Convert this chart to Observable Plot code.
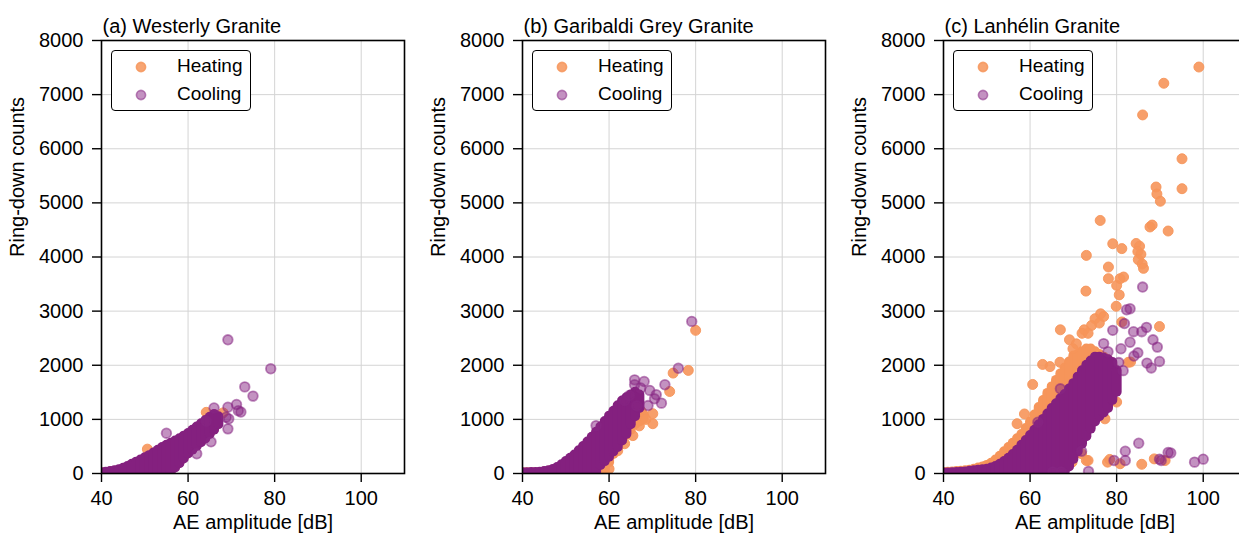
<!DOCTYPE html>
<html>
<head>
<meta charset="utf-8">
<script src="https://cdn.jsdelivr.net/npm/d3@7"></script>
<script src="https://cdn.jsdelivr.net/npm/@observablehq/plot@0.6"></script>
<style>
  html, body { margin: 0; padding: 0; background: #fff; }
  #root { position: relative; width: 1239px; height: 545px; overflow: hidden; background: #fff;
          font-family: "Liberation Sans", Arial, sans-serif; color: #000; }
  .panel { position: absolute; top: 0; width: 420px; height: 545px; }
  .panel svg { max-width: none !important; }
  .legend { position: absolute; top: 50px; width: 138px; height: 59px; border: 1.6px solid #000;
            border-radius: 4px; background: #fff; font-size: 19px; }
  .legend .row { position: absolute; left: 0; height: 22px; line-height: 22px; }
  .legend .lab { position: absolute; left: 65px; white-space: nowrap; }
  .legend svg { position: absolute; left: 22px; top: 5px; }
</style>
</head>
<body>
<div id="root"></div>
<script>
// ---------------- data ----------------
const titles = ["(a) Westerly Granite", "(b) Garibaldi Grey Granite", "(c) Lanhélin Granite"];
const seriesNames = ["Heating", "Cooling"];
const xTicks = [40, 60, 80, 100];
const yTicks = [0, 1000, 2000, 3000, 4000, 5000, 6000, 7000, 8000];

// Dense clouds: for each integer amplitude (dB) the range of ring-down counts covered by points
// Panel (a)
const heatAmpA = [40,41,42,43,44,45,46,47,48,49,50,51,52,53,54,55,56,57,58,59,60,61,62,63,64,65,66];
const heatMinA = [0,0,0,0,0,0,0,0,0,0,0,0,0,0,0,20,50,120,200,290,380,450,520,590,660,740,820];
const heatMaxA = [10,20,30,40,55,75,100,130,170,210,260,300,350,400,440,480,520,560,600,640,690,750,810,870,930,990,1040];
const coolAmpA = [40,41,42,43,44,45,46,47,48,49,50,51,52,53,54,55,56,57,58,59,60,61,62,63,64,65,66,67];
const coolMinA = [0,0,0,0,0,0,0,0,0,0,0,0,0,0,0,0,30,100,180,270,360,430,500,570,640,720,800,900];
const coolMaxA = [15,25,35,50,70,95,130,170,210,250,290,330,380,430,480,520,560,600,640,690,740,800,860,920,980,1040,1090,1050];
// sparse points of panel (a)
const heatOutAmpA = [50.6, 68.1, 64.2, 66.3];
const heatOutCntA = [450, 1120, 1130, 1080];
const coolOutAmpA = [69.2, 79.1, 73.1, 75.0, 71.2, 69.2, 72.2, 71.6, 66.0, 69.2, 68.8, 55.0, 62.0, 65.3, 69.4, 64.2];
const coolOutCntA = [2470, 1935, 1600, 1430, 1275, 1225, 1135, 1160, 1210, 825, 1040, 745, 365, 585, 1010, 965];

// Panel (b)
const heatAmpB = [40,41,42,43,44,45,46,47,48,49,50,51,52,53,54,55,56,57,58,59,60,61,62,63,64,65,66,67,68];
const heatMinB = [0,0,0,0,0,0,0,0,0,0,0,0,0,0,0,0,0,0,0,0,200,350,480,600,700,800,900,950,1000];
const heatMaxB = [15,15,15,15,15,30,40,60,90,130,180,230,290,360,430,500,580,660,740,800,850,930,1000,1050,1100,1150,1150,1100,1080];
const coolAmpB = [40,41,42,43,44,45,46,47,48,49,50,51,52,53,54,55,56,57,58,59,60,61,62,63,64,65,66,67];
const coolMinB = [0,0,0,0,0,0,0,0,0,0,0,0,0,0,0,0,0,0,150,220,300,400,480,600,720,900,1050,1200];
const coolMaxB = [15,15,20,20,25,35,50,75,110,160,220,280,340,420,500,580,670,760,860,960,1060,1150,1250,1340,1400,1450,1500,1450];
const heatOutAmpB = [80.0, 78.3, 74.8, 74.0, 70.1, 70.1, 67.4, 67.0, 63.6, 62.0, 60.0, 58.1, 68.5, 65.5];
const heatOutCntB = [2645, 1905, 1855, 1515, 1105, 920, 1150, 880, 550, 420, 85, 85, 1000, 700];
const coolOutAmpB = [79.1, 76.0, 72.9, 65.9, 68.1, 65.9, 69.4, 70.9, 70.5, 72.1, 69.0, 64.7, 63.6, 57.0, 66.4, 67.3];
const coolOutCntB = [2810, 1945, 1640, 1730, 1700, 1640, 1535, 1455, 1380, 1300, 1255, 1440, 1350, 885, 1250, 1580];

// Panel (c)
const heatAmpC = [40,41,42,43,44,45,46,47,48,49,50,51,52,53,54,55,56,57,58,59,60,61,62,63,64,65,66,67,68,69,70,71,72,73,74,75,76,77,78,79];
const heatMinC = [0,0,0,0,0,0,0,0,0,0,0,0,0,0,0,0,0,0,0,0,0,0,0,0,0,30,80,150,250,350,450,600,750,900,1000,1100,1200,1300,1400,1500];
const heatMaxC = [20,25,30,35,40,50,60,80,100,120,150,190,250,320,400,480,560,640,720,830,950,1080,1220,1350,1480,1600,1720,1840,1950,2060,2170,2200,2250,2300,2300,2250,2200,2150,2100,2000];
const coolAmpC = [40,41,42,43,44,45,46,47,48,49,50,51,52,53,54,55,56,57,58,59,60,61,62,63,64,65,66,67,68,69,70,71,72,73,74,75,76,77,78,79,80];
const coolMinC = [0,0,0,0,0,0,0,0,0,0,0,0,0,0,0,0,0,0,0,0,0,0,0,0,0,0,0,0,30,120,260,400,540,680,820,950,1050,1120,1200,1350,1500];
const coolMaxC = [10,10,15,20,25,30,40,50,60,70,80,100,130,170,220,280,350,430,520,610,700,800,900,1000,1100,1200,1290,1380,1460,1560,1660,1780,1900,2000,2080,2150,2150,2130,2100,2050,1900];
const heatOutAmpC = [99.0, 90.9, 86.0, 95.1, 95.1, 89.1, 89.3, 90.1, 91.9, 87.7, 88.2, 76.2, 79.1, 81.2, 73.0,
  84.5, 85.3, 84.9, 85.6, 85.0, 85.9, 86.2, 78.1, 78.1, 80.8, 81.6, 80.0, 72.9, 80.6, 79.9, 76.3, 75.0, 74.2,
  72.5, 67.0, 89.9, 69.1, 70.7, 69.9, 72.0, 73.4, 81.2, 62.9, 64.6, 66.9, 82.7, 60.6, 57.0, 58.7, 69.7, 73.0,
  77.9, 80.8, 85.8, 88.7, 91.2, 71.9, 78.4, 73.4, 80.0, 77.3, 78.8, 83.2, 76.0, 77.0];
const heatOutCntC = [7510, 7210, 6625, 5815, 5262, 5293, 5165, 5030, 4480, 4555, 4590, 4675, 4245, 4155, 4030,
  4250, 4200, 4100, 4050, 3950, 3870, 3790, 3815, 3600, 3600, 3630, 3475, 3370, 3300, 3090, 2950, 2860, 2735,
  2655, 2655, 2715, 2470, 2395, 2305, 2590, 2590, 2800, 2015, 1975, 2055, 2055, 1645, 920, 1100, 210, 240,
  210, 180, 170, 270, 240, 365, 260, 240, 1320, 1010, 1350, 2060, 2780, 2900];
const coolOutAmpC = [86.0, 83.1, 82.3, 81.8, 86.9, 85.8, 83.9, 88.4, 89.4, 79.1, 81.0, 83.1, 84.0, 84.9, 87.0,
  88.0, 89.9, 85.1, 82.0, 79.4, 82.0, 91.9, 89.9, 98.0, 100.0, 71.9, 65.3, 67.2, 73.5, 67.0, 61.8, 77.0, 78.0,
  80.5, 81.5, 90.3, 92.5];
const coolOutCntC = [3445, 3045, 3025, 2770, 2700, 2620, 2620, 2470, 2335, 2645, 2305, 2425, 2170, 2230, 2040,
  1950, 2070, 560, 412, 240, 240, 388, 265, 210, 265, 412, 30, 30, 40, 1565, 948, 2400, 2250,
  2050, 1900, 240, 380];

// ---------------- drawing ----------------
const HEAT = "#f6955a";
const COOL = "#872684";
const COOL_DENSE = "#84207f";
const FS = 20;

const cols = (amp, lo, hi) => amp.map((a, i) => ({amp: a, lo: lo[i], hi: hi[i]}));
const pts = (amp, cnt) => amp.map((a, i) => ({amp: a, cnt: cnt[i]}));

const panels = [
  {left: 0, title: titles[0], heat: cols(heatAmpA, heatMinA, heatMaxA), cool: cols(coolAmpA, coolMinA, coolMaxA),
   heatPts: pts(heatOutAmpA, heatOutCntA), coolPts: pts(coolOutAmpA, coolOutCntA)},
  {left: 421, title: titles[1], heat: cols(heatAmpB, heatMinB, heatMaxB), cool: cols(coolAmpB, coolMinB, coolMaxB),
   heatPts: pts(heatOutAmpB, heatOutCntB), coolPts: pts(coolOutAmpB, coolOutCntB)},
  {left: 842, title: titles[2], heat: cols(heatAmpC, heatMinC, heatMaxC), cool: cols(coolAmpC, coolMinC, coolMaxC),
   heatPts: pts(heatOutAmpC, heatOutCntC), coolPts: pts(coolOutAmpC, coolOutCntC)}
];

const root = document.getElementById("root");

for (const p of panels) {
  const chart = Plot.plot({
    width: 420, height: 545,
    marginLeft: 101, marginRight: 16, marginTop: 40, marginBottom: 72,
    x: {domain: [40, 110]},
    y: {domain: [0, 8000]},
    style: {fontFamily: "'Liberation Sans', Arial, sans-serif", fontSize: FS + "px", color: "#000", background: "transparent", overflow: "visible", maxWidth: "none"},
    marks: [
      Plot.gridX(xTicks, {stroke: "#d4d4d4", strokeOpacity: 1, strokeWidth: 1}),
      Plot.gridY(yTicks, {stroke: "#d4d4d4", strokeOpacity: 1, strokeWidth: 1}),
      // heating
      Plot.ruleX(p.heat, {x: "amp", y1: "lo", y2: "hi", stroke: HEAT, strokeWidth: 10, strokeLinecap: "round", clip: true}),
      Plot.dot(p.heatPts, {x: "amp", y: "cnt", r: 5, fill: HEAT, fillOpacity: 0.9, stroke: HEAT, strokeOpacity: 0.9, strokeWidth: 1, clip: true}),
      // cooling
      Plot.ruleX(p.cool, {x: "amp", y1: "lo", y2: "hi", stroke: COOL_DENSE, strokeWidth: 10, strokeLinecap: "round", clip: true}),
      Plot.dot(p.coolPts, {x: "amp", y: "cnt", r: 4.8, fill: COOL, fillOpacity: 0.5, stroke: COOL, strokeOpacity: 0.55, strokeWidth: 1.8, clip: true}),
      Plot.frame({stroke: "#000", strokeWidth: 1.6}),
      Plot.axisX({ticks: xTicks, tickSize: 9, tickPadding: 8, label: null, tickFormat: d3.format("d"), strokeWidth: 1.4, fontSize: FS}),
      Plot.axisY({ticks: yTicks, tickSize: 9, tickPadding: 9, label: null, tickFormat: d3.format("d"), strokeWidth: 1.4, fontSize: FS}),
      Plot.text(["AE amplitude [dB]"], {frameAnchor: "bottom", dy: 55, fontSize: FS}),
      Plot.text(["Ring-down counts"], {frameAnchor: "left", dx: -84, rotate: -90, fontSize: FS}),
      Plot.text([p.title], {frameAnchor: "top-left", dy: -22, dx: 1, textAnchor: "start", fontSize: FS})
    ]
  });
  chart.style.maxWidth = "none";
  chart.setAttribute("width", 420);
  const wrap = document.createElement("div");
  wrap.className = "panel";
  wrap.style.left = p.left + "px";
  wrap.appendChild(chart);
  root.appendChild(wrap);

  // legend box inside the axes
  const lg = document.createElement("div");
  lg.className = "legend";
  lg.style.left = (p.left + 111) + "px";
  const rows = [
    {name: seriesNames[0], top: 4, fill: HEAT, fo: 0.85, so: 0.85},
    {name: seriesNames[1], top: 32, fill: COOL, fo: 0.5, so: 0.55}
  ];
  for (const r of rows) {
    const row = document.createElement("div");
    row.className = "row";
    row.style.top = r.top + "px";
    row.style.width = "138px";
    row.innerHTML = `<svg width="14" height="14"><circle cx="7" cy="7" r="4.6" fill="${r.fill}" fill-opacity="${r.fo}" stroke="${r.fill}" stroke-opacity="${r.so}" stroke-width="1.6"/></svg><span class="lab">${r.name}</span>`;
    lg.appendChild(row);
  }
  root.appendChild(lg);
}
</script>
</body>
</html>
